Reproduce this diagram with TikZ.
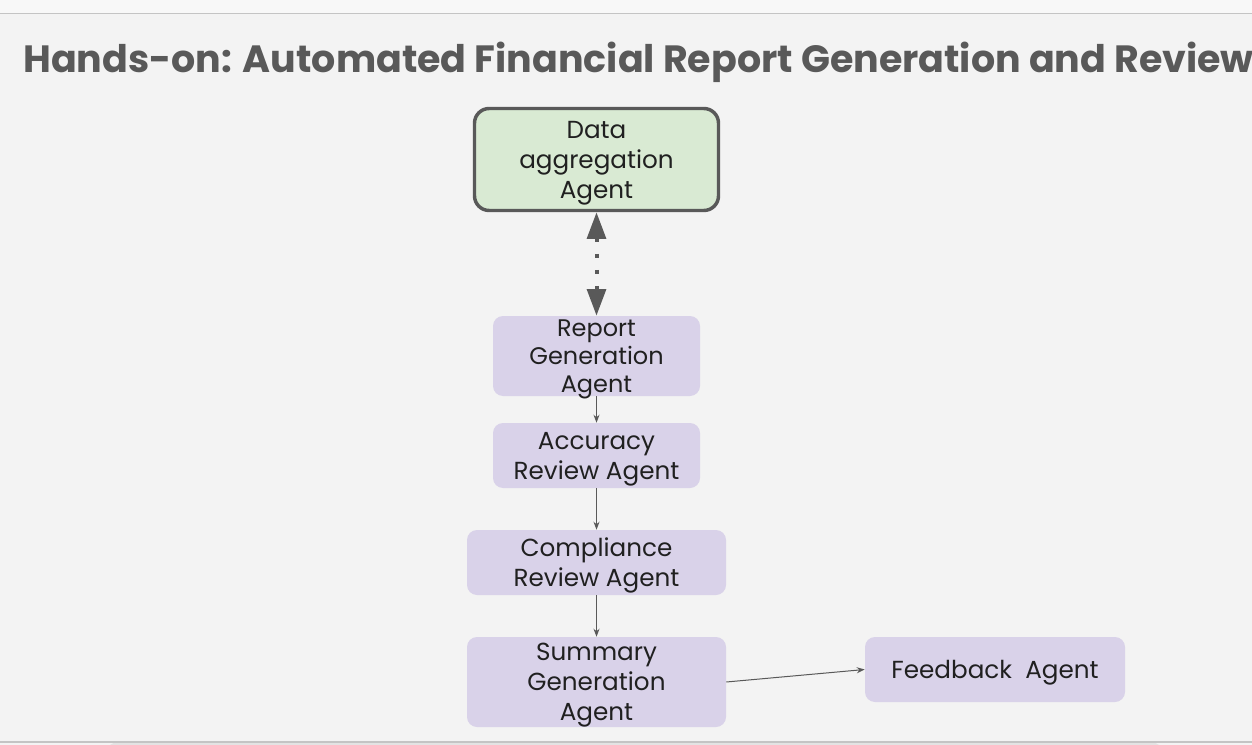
\documentclass[tikz,border=0pt]{standalone}
\usepackage{fontspec}
\setmainfont{Poppins}
\usetikzlibrary{arrows.meta,positioning}

\definecolor{pagebg}{HTML}{F3F3F3}
\definecolor{topbar}{HTML}{F8F8F8}
\definecolor{rulegray}{HTML}{C4C4C4}
\definecolor{tabgray}{HTML}{E3E3E3}
\definecolor{titlegray}{HTML}{595959}
\definecolor{linegray}{HTML}{595959}
\definecolor{textdark}{HTML}{202020}
\definecolor{greenfill}{HTML}{D9EAD3}
\definecolor{purplefill}{HTML}{D9D2E9}

\begin{document}
\begin{tikzpicture}[x=0.75pt, y=-0.75pt, >=Stealth,
    agent/.style={fill=purplefill, rounded corners=7.5pt, align=center,
        text=textdark, inner sep=0pt, text depth=-1pt,
        font=\fontsize{18.5}{22.5}\selectfont},
    flow/.style={->, draw=linegray, line width=0.75pt,
        >={Stealth[length=6pt, width=4.5pt]}}]

    % page
    \useasboundingbox (0,0) rectangle (1252,745);
    \fill[pagebg] (0,0) rectangle (1252,745);
    \fill[topbar] (0,0) rectangle (1252,13);
    \draw[rulegray, line width=0.9pt] (0,13.5) -- (1252,13.5);
    \fill[tabgray] (110,745) -- (116,741.5) -- (1153,741.5) -- (1159,745) -- cycle;
    \draw[rulegray, line width=0.9pt] (0,742) -- (1252,742);

    % title
    \node[anchor=base west, text=titlegray, inner sep=0pt,
        font=\fontsize{28.5}{34}\selectfont\bfseries] (title) at (23,73)
        {Hands-on: Automated Financial Report Generation and Review};

    % agents
    \node[agent, fill=greenfill, draw=linegray, line width=2.6pt,
        rounded corners=11pt, minimum width=183pt, minimum height=76.5pt]
        (data) at (596.5,159.5) {Data\\aggregation\\Agent};
    \node[agent, minimum width=155.25pt, minimum height=60pt,
        font=\fontsize{18}{21}\selectfont]
        (report) at (596.5,356) {Report\\Generation\\Agent};
    \node[agent, minimum width=155.25pt, minimum height=48.75pt]
        (accuracy) at (596.5,455.5) {Accuracy\\Review Agent};
    \node[agent, minimum width=194.25pt, minimum height=48.75pt]
        (compliance) at (596.5,562.5) {Compliance\\Review Agent};
    \node[agent, minimum width=194.25pt, minimum height=67.5pt]
        (summary) at (596.5,682) {Summary\\Generation\\Agent};
    \node[agent, minimum width=195pt, minimum height=48.75pt]
        (feedback) at (995,669.5) {Feedback\ \ Agent};

    % connectors
    \draw[<->, draw=linegray, line width=3pt, dash pattern=on 3pt off 9pt,
        >={Triangle[length=20pt, width=14pt]}] (data) -- (report);
    \draw[flow] (report) -- (accuracy);
    \draw[flow] (accuracy) -- (compliance);
    \draw[flow] (compliance) -- (summary);
    \draw[flow] (summary.east) -- (feedback.west);
\end{tikzpicture}
\end{document}
